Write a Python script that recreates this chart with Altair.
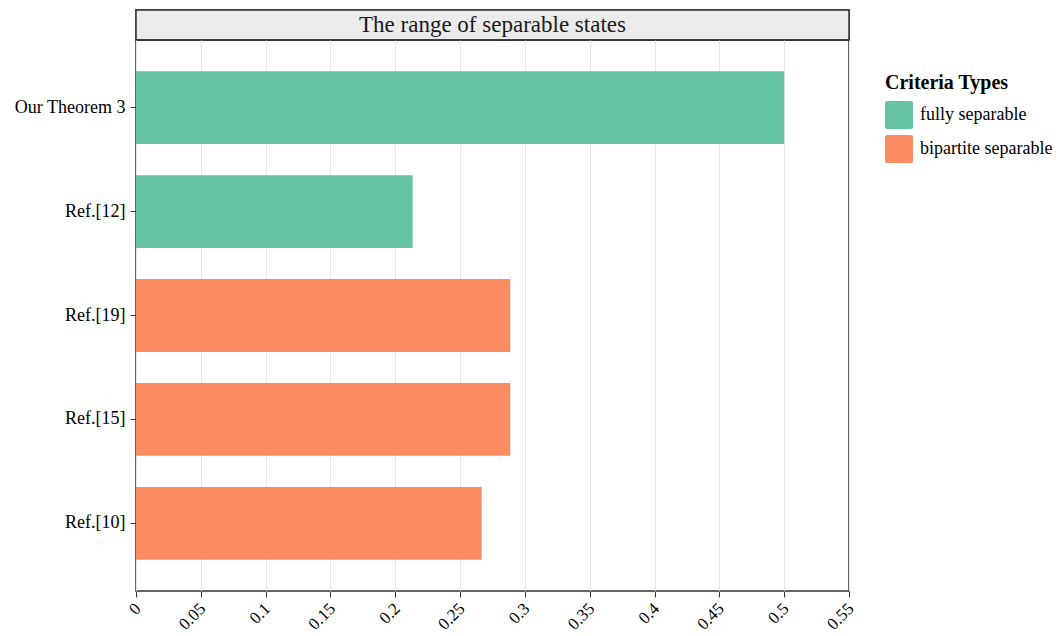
import altair as alt
import pandas as pd

# ---- data ----
methods = ["Our Theorem 3", "Ref.[12]", "Ref.[19]", "Ref.[15]", "Ref.[10]"]
values = [0.5, 0.2134, 0.2887, 0.2887, 0.2667]
types = ["fully separable", "fully separable", "bipartite separable",
         "bipartite separable", "bipartite separable"]
type_order = ["fully separable", "bipartite separable"]
type_colors = ["#66C2A5", "#FC8D62"]
x_ticks = [0, 0.05, 0.1, 0.15, 0.2, 0.25, 0.3, 0.35, 0.4, 0.45, 0.5, 0.55]
strip_title = "The range of separable states"
legend_title = "Criteria Types"

df = pd.DataFrame({"method": methods, "value": values, "type": types})

FONT = "Liberation Serif"
W, H, SH = 713, 551, 30
rounded_sq = ("M-0.85,-1 L0.85,-1 Q1,-1 1,-0.85 L1,0.85 Q1,1 0.85,1 "
              "L-0.85,1 Q-1,1 -1,0.85 L-1,-0.85 Q-1,-1 -0.85,-1 Z")

bars = alt.Chart(df).mark_bar().encode(
    x=alt.X("value:Q",
            scale=alt.Scale(domain=[0, 0.55], nice=False, zero=True),
            axis=alt.Axis(values=x_ticks, format="~g", title=None,
                          labelAngle=-45, labelAlign="right", labelBaseline="top",
                          grid=True, gridColor="#E6E6E6", gridWidth=1,
                          domain=False, tickColor="#333333", tickSize=6,
                          labelFont=FONT, labelFontSize=17, labelColor="black",
                          labelPadding=3, labelOffset=-4)),
    y=alt.Y("method:N", sort=methods,
            scale=alt.Scale(paddingInner=0.3, paddingOuter=0.3),
            axis=alt.Axis(title=None, grid=False, domain=False,
                          tickColor="#333333", tickSize=6,
                          labelFont=FONT, labelFontSize=18, labelColor="black",
                          labelPadding=5)),
    color=alt.Color("type:N",
                    scale=alt.Scale(domain=type_order, range=type_colors),
                    legend=alt.Legend(title=legend_title, orient="none",
                                      legendX=749, legendY=63,
                                      symbolType=rounded_sq, symbolSize=784,
                                      symbolStrokeWidth=0,
                                      labelFont=FONT, labelFontSize=18, labelColor="black",
                                      titleFont=FONT, titleFontSize=20, titleFontWeight="bold",
                                      titleColor="black", titlePadding=8,
                                      rowPadding=6, labelOffset=7)),
).properties(width=W, height=H)

strip_data = alt.Data(values=[{"t": strip_title}])
strip_rect = alt.Chart(strip_data).mark_rect(
    fill="#EBEBEB", stroke="#333333", strokeWidth=1.5
).encode(x=alt.value(0), x2=alt.value(W), y=alt.value(0), y2=alt.value(SH))
strip_text = alt.Chart(strip_data).mark_text(
    font=FONT, fontSize=23, color="#1a1a1a", baseline="middle", align="center"
).encode(x=alt.value(W / 2), y=alt.value(SH / 2), text="t:N")
strip = (strip_rect + strip_text).properties(width=W, height=SH)

chart = alt.vconcat(strip, bars, spacing=0, bounds="flush").properties(
    padding={"left": 5, "top": 0, "right": 0, "bottom": 0}
).configure_view(stroke="#333333", strokeWidth=1.5)

chart.save("out.html", embed_options={"renderer": "svg", "actions": False})
